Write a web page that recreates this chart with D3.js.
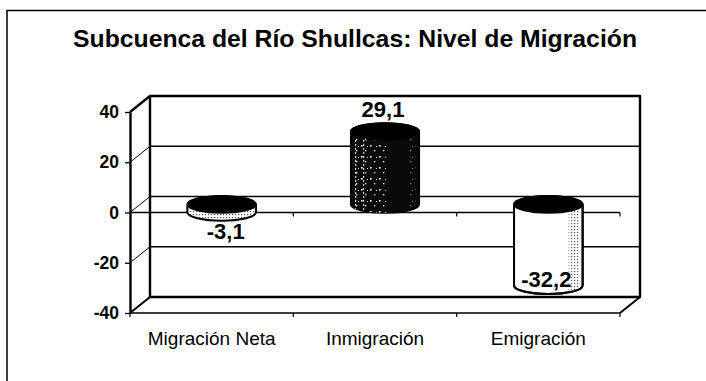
<!DOCTYPE html>
<html>
<head>
<meta charset="utf-8">
<script src="https://cdn.jsdelivr.net/npm/d3@7"></script>
<style>
  html, body { margin: 0; padding: 0; background: #fff; }
  svg { display: block; font-family: "Liberation Sans", Arial, sans-serif; }
</style>
</head>
<body>
<svg id="chart" width="706" height="381"></svg>
<script>
// Migration figures for the Shullcas sub-basin
const categories = ["Migración Neta", "Inmigración", "Emigración"];
const values = [-3.1, 29.1, -32.2];
const yTicks = [-40, -20, 0, 20, 40];
const yDomain = [-40, 40];
const title = "Subcuenca del Río Shullcas: Nivel de Migración";

const svg = d3.select("#chart");
const ink = "#000";

// Spanish number style: decimal comma, plain hyphen for minus
const esLocale = d3.formatLocale({ decimal: ",", thousands: ".", grouping: [3], currency: ["", ""], minus: "-" });
const fmt = esLocale.format(".1f");

// Front plane of the 3D plot and the depth offset to the back wall
const plotLeft = 130, plotRight = 620, plotTop = 112, plotBottom = 313;
const dx = 20, dy = -16;

const x = d3.scaleBand().domain(categories).range([plotLeft, plotRight]);
const y = d3.scaleLinear().domain(yDomain).range([plotBottom, plotTop]);

// Chart area border (top and left edges)
svg.append("path")
  .attr("d", "M7,381 L7,10.5 L706,10.5")
  .attr("fill", "none").attr("stroke", ink).attr("stroke-width", 1.5);

// Title
svg.append("text")
  .attr("x", 355).attr("y", 47)
  .attr("text-anchor", "middle")
  .attr("font-size", 23.5).attr("font-weight", "bold")
  .attr("textLength", 564).attr("lengthAdjust", "spacingAndGlyphs")
  .attr("fill", ink)
  .text(title);

// Patterns used for the cylinder shading
const defs = svg.append("defs");
const dots = defs.append("pattern").attr("id", "dots")
  .attr("width", 3).attr("height", 3).attr("patternUnits", "userSpaceOnUse");
dots.append("rect").attr("width", 3).attr("height", 3).attr("fill", "#fff");
dots.append("rect").attr("x", 1).attr("y", 1).attr("width", 1.2).attr("height", 1.2).attr("fill", "#555");

const speck = defs.append("pattern").attr("id", "speck")
  .attr("width", 9).attr("height", 11).attr("patternUnits", "userSpaceOnUse");
speck.append("rect").attr("x", 1).attr("y", 2).attr("width", 1.6).attr("height", 1.6).attr("fill", "#fff");
speck.append("rect").attr("x", 5).attr("y", 7).attr("width", 1.3).attr("height", 1.3).attr("fill", "#fff");
speck.append("rect").attr("x", 7).attr("y", 3).attr("width", 1).attr("height", 1).attr("fill", "#ddd");

const g = svg.append("g");

// Back wall with gridlines
const backLeft = plotLeft + dx, backRight = plotRight + dx;
g.append("rect")
  .attr("x", backLeft).attr("y", y(yDomain[1]) + dy)
  .attr("width", backRight - backLeft).attr("height", y(yDomain[0]) - y(yDomain[1]))
  .attr("fill", "#fff");

yTicks.filter(t => t > yDomain[0] && t < yDomain[1]).forEach(t => {
  g.append("line")
    .attr("x1", backLeft).attr("x2", backRight)
    .attr("y1", y(t) + dy).attr("y2", y(t) + dy)
    .attr("stroke", ink).attr("stroke-width", 1.3);
  // gridline continues across the side wall
  g.append("line")
    .attr("x1", plotLeft).attr("x2", backLeft)
    .attr("y1", y(t)).attr("y2", y(t) + dy)
    .attr("stroke", ink).attr("stroke-width", 1);
});

// Wall outline
g.append("path")
  .attr("d", `M${plotLeft},${y(yDomain[1])} L${backLeft},${y(yDomain[1]) + dy} L${backRight},${y(yDomain[1]) + dy} L${backRight},${y(yDomain[0]) + dy} L${backLeft},${y(yDomain[0]) + dy} L${backLeft},${y(yDomain[1]) + dy}`)
  .attr("fill", "none").attr("stroke", ink).attr("stroke-width", 2.4).attr("stroke-linejoin", "round");
g.append("path")
  .attr("d", `M${plotLeft},${y(yDomain[0])} L${backLeft},${y(yDomain[0]) + dy} M${plotRight},${y(yDomain[0])} L${backRight},${y(yDomain[0]) + dy}`)
  .attr("fill", "none").attr("stroke", ink).attr("stroke-width", 2);

// Category boundaries along the front edges
const step = x.step();
const bounds = d3.range(categories.length + 1).map(i => plotLeft + i * step);

// Category axis line at zero
g.append("line")
  .attr("x1", plotLeft).attr("x2", plotRight)
  .attr("y1", y(0)).attr("y2", y(0))
  .attr("stroke", ink).attr("stroke-width", 1.3);
bounds.slice(1).forEach(b => {
  g.append("line").attr("x1", b).attr("x2", b)
    .attr("y1", y(0)).attr("y2", y(0) + 4)
    .attr("stroke", ink).attr("stroke-width", 1.2);
});

// Cylinders
const rx = step * 0.21, ry = 8.5;
const midY = v => y(v) + dy / 2;

values.forEach((v, i) => {
  const cx = x(categories[i]) + step / 2 + dx / 2;
  const yTop = midY(Math.max(v, 0));
  const yBot = midY(Math.min(v, 0));
  const body = `M${cx - rx},${yTop} L${cx - rx},${yBot} A${rx},${ry} 0 0 0 ${cx + rx},${yBot} L${cx + rx},${yTop} A${rx},${ry} 0 0 0 ${cx - rx},${yTop} Z`;
  const cyl = g.append("g");

  if (i === 0) {
    cyl.append("path").attr("d", body).attr("fill", "url(#dots)")
      .attr("stroke", ink).attr("stroke-width", 2);
  } else if (i === 1) {
    cyl.append("path").attr("d", body).attr("fill", "#0a0a0a")
      .attr("stroke", ink).attr("stroke-width", 1.5);
    const clipId = "clip" + i;
    defs.append("clipPath").attr("id", clipId).append("path").attr("d", body);
    const sg = cyl.append("g").attr("clip-path", `url(#${clipId})`);
    sg.append("rect")
      .attr("x", cx - rx + 4).attr("y", yTop)
      .attr("width", rx * 0.95).attr("height", yBot - yTop + ry)
      .attr("fill", "url(#speck)");
    [5, 13].forEach(off => {
      sg.append("line")
        .attr("x1", cx - rx + off).attr("x2", cx - rx + off)
        .attr("y1", yTop + ry).attr("y2", yBot + ry)
        .attr("stroke", "#fff").attr("stroke-width", 1)
        .attr("stroke-dasharray", "2 2");
    });
    sg.append("rect")
      .attr("x", cx + rx - 9).attr("y", yTop)
      .attr("width", 5).attr("height", yBot - yTop + ry)
      .attr("fill", "url(#speck)").attr("opacity", 0.6);
  } else {
    cyl.append("path").attr("d", body).attr("fill", "#fff")
      .attr("stroke", ink).attr("stroke-width", 2);
    const clipId = "clip" + i;
    defs.append("clipPath").attr("id", clipId).append("path").attr("d", body);
    cyl.append("g").attr("clip-path", `url(#${clipId})`)
      .append("rect")
      .attr("x", cx + rx - 14).attr("y", yTop)
      .attr("width", 11).attr("height", yBot - yTop + ry)
      .attr("fill", "url(#dots)");
    cyl.append("path").attr("d", body).attr("fill", "none")
      .attr("stroke", ink).attr("stroke-width", 2);
  }
  // top face
  cyl.append("ellipse")
    .attr("cx", cx).attr("cy", yTop).attr("rx", rx).attr("ry", ry)
    .attr("fill", "#000").attr("stroke", ink).attr("stroke-width", 1.5);

  // value label
  const lblY = v >= 0 ? yTop - ry - 6 : Math.min(yBot + ry + 18, y(yDomain[0]) + dy - 10);
  g.append("text")
    .attr("x", cx + (v < 0 && i === 0 ? 4 : -2)).attr("y", lblY)
    .attr("text-anchor", "middle")
    .attr("font-size", 22).attr("font-weight", "bold")
    .attr("fill", ink)
    .text(fmt(v));
});

// Front floor edge with category ticks
g.append("line")
  .attr("x1", plotLeft).attr("x2", plotRight)
  .attr("y1", y(yDomain[0])).attr("y2", y(yDomain[0]))
  .attr("stroke", ink).attr("stroke-width", 1.4);
bounds.forEach(b => {
  g.append("line").attr("x1", b).attr("x2", b)
    .attr("y1", y(yDomain[0])).attr("y2", y(yDomain[0]) + 4)
    .attr("stroke", ink).attr("stroke-width", 1.2);
});

// Value axis
const yAxis = d3.axisLeft(y).tickValues(yTicks).tickSize(5).tickSizeOuter(0).tickPadding(6)
  .tickFormat(esLocale.format("d"));
const ya = svg.append("g").attr("transform", `translate(${plotLeft},0)`).call(yAxis);
ya.select(".domain").attr("stroke", ink).attr("stroke-width", 2.4);
ya.selectAll(".tick line").attr("stroke", ink).attr("stroke-width", 1.3);
ya.selectAll(".tick text")
  .attr("font-size", 17.5).attr("font-weight", "bold")
  .attr("font-family", "'Liberation Sans', Arial, sans-serif")
  .attr("fill", ink);

// Category labels
const xAxis = d3.axisBottom(x).tickSize(0).tickPadding(19);
const xa = svg.append("g").attr("transform", `translate(0,${y(yDomain[0])})`).call(xAxis);
xa.select(".domain").remove();
xa.selectAll(".tick text")
  .attr("font-size", 19)
  .attr("font-family", "'Liberation Sans', Arial, sans-serif")
  .attr("fill", ink);
</script>
</body>
</html>
